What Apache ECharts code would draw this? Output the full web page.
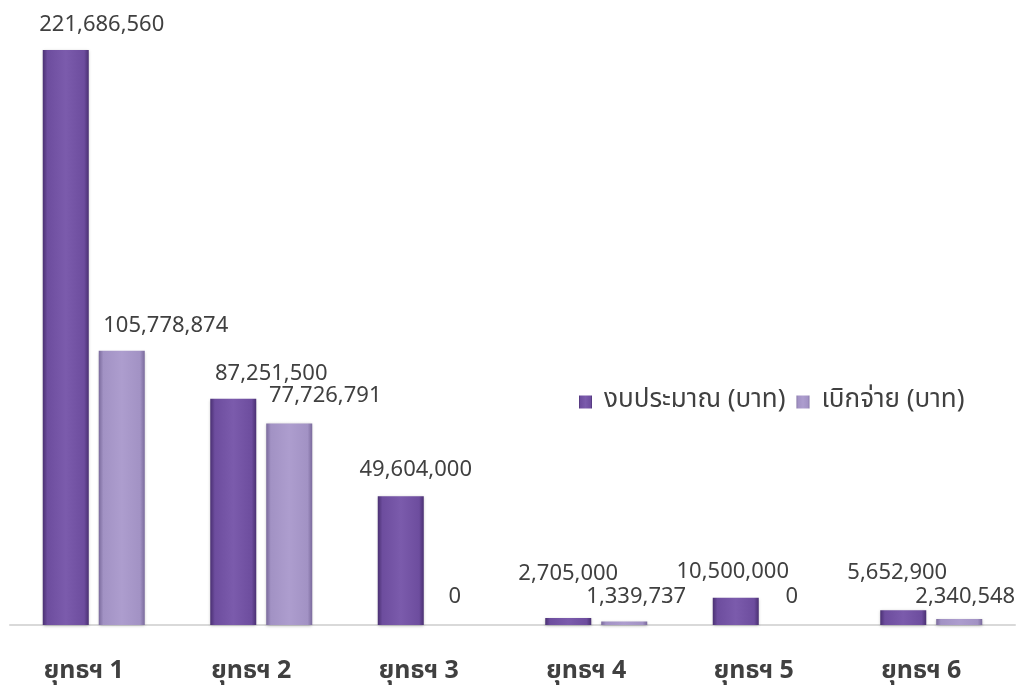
<!DOCTYPE html>
<html>
<head>
<meta charset="utf-8">
<script src="https://cdn.jsdelivr.net/npm/echarts@6/dist/echarts.min.js"></script>
<style>
html,body{margin:0;padding:0;background:#fff;}
#chart{width:1025px;height:688px;}
</style>
</head>
<body>
<div id="chart"></div>
<script>
const categories = ['ยุทธฯ 1','ยุทธฯ 2','ยุทธฯ 3','ยุทธฯ 4','ยุทธฯ 5','ยุทธฯ 6'];
const seriesNames = ['งบประมาณ (บาท)','เบิกจ่าย (บาท)'];
const budget = [221686560, 87251500, 49604000, 2705000, 10500000, 5652900];
const spent = [105778874, 77726791, 0, 1339737, 0, 2340548];

// label placement tweaks (pixels), matching the hand-moved labels of the original
const budgetLabelShift = [[36,0],[38,0],[15,-2],[0,-19],[-3,-1],[-6,-13]];
const spentLabelShift = [[44,0],[36,-3],[-2,-3],[12,0],[0,-3],[6,3]];

const FONT = '"Noto Sans Thai","Leelawadee UI",Tahoma,"Noto Sans",sans-serif';
const NUMFONT = '"Noto Sans",sans-serif';

function bevel(edge, mid, light){
  return {
    type:'linear', x:0, y:0, x2:1, y2:0,
    colorStops:[
      {offset:0, color:edge},
      {offset:0.1, color:mid},
      {offset:0.5, color:light},
      {offset:0.9, color:mid},
      {offset:1, color:edge}
    ]
  };
}

const fmt = p => Number(p.value).toLocaleString('en-US');

function build(values, shifts){
  return values.map((v,i)=>({value:v, label:{offset:shifts[i]}}));
}

const chart = echarts.init(document.getElementById('chart'));
chart.setOption({
  animation:false,
  backgroundColor:'#ffffff',
  textStyle:{fontFamily:FONT},
  grid:{left:10, right:10, top:50, bottom:63, containLabel:false},
  legend:{
    left:574, top:384, icon:'rect',
    itemWidth:13, itemHeight:13, itemGap:11,
    textStyle:{fontSize:26, color:'#404040', fontFamily:FONT, padding:[0,0,0,7]},
    data:seriesNames
  },
  xAxis:{
    type:'category', data:categories,
    axisLine:{lineStyle:{color:'#d9d9d9', width:2}},
    axisTick:{show:false},
    axisLabel:{fontSize:25, fontWeight:'bold', color:'#404040', margin:35, fontFamily:FONT, padding:[0,20,0,0]}
  },
  yAxis:{type:'value', min:0, max:'dataMax', show:false, splitLine:{show:false}},
  series:[
    {
      name:seriesNames[0], type:'bar', barWidth:46, barGap:'21.7%',
      data:build(budget, budgetLabelShift),
      itemStyle:{color:bevel('#4a3072','#6d4d9e','#7b5bac'),
        shadowColor:'rgba(0,0,0,0.25)', shadowBlur:3, shadowOffsetY:1},
      label:{show:true, position:'top', distance:14, fontSize:22, color:'#404040', fontFamily:NUMFONT, formatter:fmt}
    },
    {
      name:seriesNames[1], type:'bar', barWidth:46,
      data:build(spent, spentLabelShift),
      itemStyle:{color:bevel('#7a6a9c','#a292c4','#ad9dce'),
        shadowColor:'rgba(0,0,0,0.25)', shadowBlur:3, shadowOffsetY:1},
      label:{show:true, position:'top', distance:14, fontSize:22, color:'#404040', fontFamily:NUMFONT, formatter:fmt}
    }
  ]
});
</script>
</body>
</html>
